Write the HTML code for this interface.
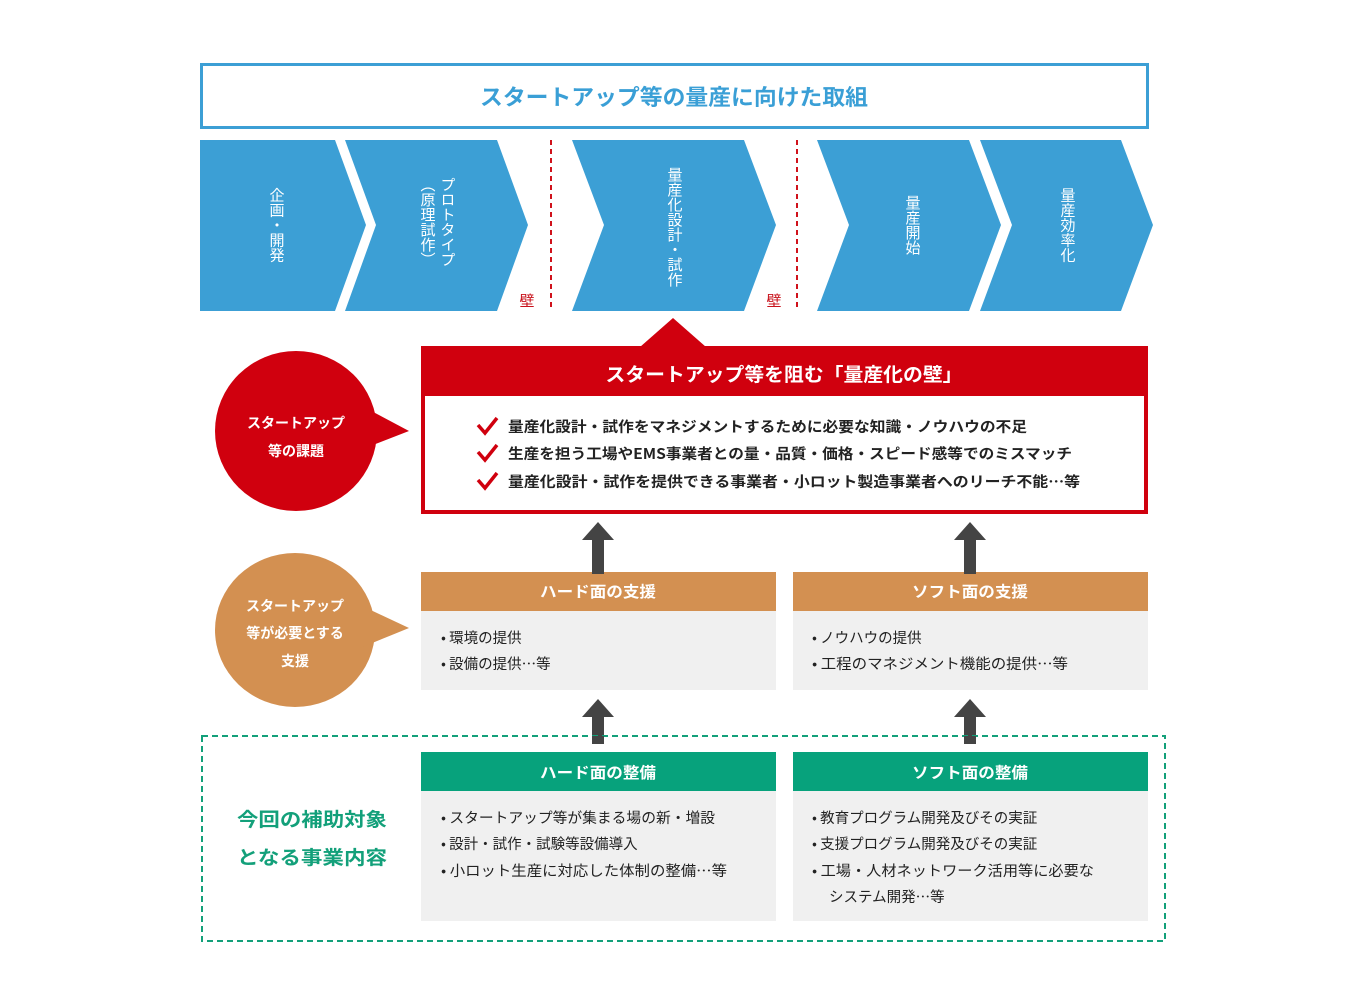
<!DOCTYPE html>
<html><head><meta charset="utf-8"><style>
body{margin:0;background:#fff}
svg{display:block;font-family:"Noto Sans CJK JP","Liberation Sans",sans-serif}
</style></head><body>
<svg width="1366" height="1000" viewBox="0 0 1366 1000">
<rect x="201.5" y="64.5" width="946" height="63" fill="#fff" stroke="#3c9fd5" stroke-width="3"/>
<text x="674" y="105" text-anchor="middle" font-size="22" font-weight="bold" fill="#3a9fd6" textLength="388" lengthAdjust="spacingAndGlyphs">スタートアップ等の量産に向けた取組</text>
<g fill="#3c9fd5">
<polygon points="200,140 335,140 366,225 335,311 200,311"/>
<polygon points="345,140 497,140 528,225 497,311 345,311 376,225"/>
<polygon points="572,140 744,140 776,225 744,311 572,311 604,225"/>
<polygon points="817,140 969,140 1001,225 969,311 817,311 849,225"/>
<polygon points="980,140 1121,140 1153,225 1121,311 980,311 1012,225"/>
</g>
<line x1="551" y1="140" x2="551" y2="311" stroke="#d0121b" stroke-width="2" stroke-dasharray="5,4"/>
<line x1="797" y1="140" x2="797" y2="311" stroke="#d0121b" stroke-width="2" stroke-dasharray="5,4"/>
<text x="527" y="306" text-anchor="middle" font-size="15" fill="#c8101a">壁</text>
<text x="774" y="306" text-anchor="middle" font-size="15" fill="#c8101a">壁</text>
<g fill="#fff" font-size="15" style="writing-mode:vertical-rl;writing-mode:tb" text-anchor="middle">
<text x="277" y="225">企画・開発</text>
<text x="448" y="222">プロトタイプ</text>
<text x="428" y="222">（原理試作）</text>
<text x="675" y="227">量産化設計・試作</text>
<text x="913" y="225">量産開始</text>
<text x="1068" y="225">量産効率化</text>
</g>
<polygon points="640,347 673,318 706,347" fill="#d0000e"/>
<rect x="421" y="346" width="727" height="168" fill="#d0000e"/>
<rect x="425" y="396" width="719" height="114" fill="#fff"/>
<text x="784" y="381" text-anchor="middle" font-size="19" font-weight="bold" fill="#fff" textLength="357" lengthAdjust="spacingAndGlyphs">スタートアップ等を阻む「量産化の壁」</text>
<g font-size="14.5" font-weight="bold" fill="#222">
<text x="508" y="432" textLength="519" lengthAdjust="spacingAndGlyphs">量産化設計・試作をマネジメントするために必要な知識・ノウハウの不足</text>
<text x="508" y="459" textLength="564" lengthAdjust="spacingAndGlyphs">生産を担う工場やEMS事業者との量・品質・価格・スピード感等でのミスマッチ</text>
<text x="508" y="487" textLength="572" lengthAdjust="spacingAndGlyphs">量産化設計・試作を提供できる事業者・小ロット製造事業者へのリーチ不能…等</text>
</g>
<g fill="none" stroke="#d0000e" stroke-width="3.5">
<polyline points="478,425 485,433 497,418"/>
<polyline points="478,452 485,460 497,445"/>
<polyline points="478,480 485,488 497,473"/>
</g>
<ellipse cx="296" cy="431" rx="81" ry="80" fill="#d0000e"/>
<polygon points="360,405 409,431 360,450" fill="#d0000e"/>
<text x="296" y="428" text-anchor="middle" font-size="14" font-weight="bold" fill="#fff">スタートアップ</text>
<text x="296" y="456" text-anchor="middle" font-size="14" font-weight="bold" fill="#fff">等の課題</text>
<ellipse cx="295" cy="630" rx="80" ry="77" fill="#d39051"/>
<polygon points="360,605 409,628 360,648" fill="#d39051"/>
<g text-anchor="middle" font-size="14" font-weight="bold" fill="#fff">
<text x="295" y="611">スタートアップ</text>
<text x="295" y="638">等が必要とする</text>
<text x="295" y="666">支援</text>
</g>
<rect x="421" y="572" width="355" height="39" fill="#d39051"/>
<rect x="421" y="611" width="355" height="79" fill="#f0f0f0"/>
<rect x="793" y="572" width="355" height="39" fill="#d39051"/>
<rect x="793" y="611" width="355" height="79" fill="#f0f0f0"/>
<text x="598" y="597" text-anchor="middle" font-size="15.5" font-weight="bold" fill="#fff" textLength="116" lengthAdjust="spacingAndGlyphs">ハード面の支援</text>
<text x="970" y="597" text-anchor="middle" font-size="15.5" font-weight="bold" fill="#fff" textLength="116" lengthAdjust="spacingAndGlyphs">ソフト面の支援</text>
<g font-size="14.5" fill="#222">
<text x="441" y="643">• 環境の提供</text>
<text x="441" y="669">• 設備の提供…等</text>
<text x="812" y="643">• ノウハウの提供</text>
<text x="812" y="669" textLength="256" lengthAdjust="spacingAndGlyphs">• 工程のマネジメント機能の提供…等</text>
</g>
<g fill="#444">
<polygon points="592,574 604,574 604,540 614,540 598,522 582,540 592,540"/>
<polygon points="964,574 976,574 976,540 986,540 970,522 954,540 964,540"/>
<polygon points="592,743 604,743 604,717 614,717 598,699 582,717 592,717"/>
<polygon points="964,743 976,743 976,717 986,717 970,699 954,717 964,717"/>
</g>
<rect x="202" y="736" width="963" height="205" fill="none" stroke="#13a07a" stroke-width="2" stroke-dasharray="6,4"/>
<rect x="592" y="736" width="12" height="8" fill="#444"/><rect x="964" y="736" width="12" height="8" fill="#444"/>
<text x="312" y="826" text-anchor="middle" font-size="19" font-weight="bold" fill="#13a07a" textLength="150" lengthAdjust="spacingAndGlyphs">今回の補助対象</text>
<text x="312" y="864" text-anchor="middle" font-size="19" font-weight="bold" fill="#13a07a" textLength="150" lengthAdjust="spacingAndGlyphs">となる事業内容</text>
<rect x="421" y="752" width="355" height="39" fill="#07a27c"/>
<rect x="421" y="791" width="355" height="130" fill="#f0f0f0"/>
<rect x="793" y="752" width="355" height="39" fill="#07a27c"/>
<rect x="793" y="791" width="355" height="130" fill="#f0f0f0"/>
<text x="598" y="778" text-anchor="middle" font-size="15.5" font-weight="bold" fill="#fff" textLength="116" lengthAdjust="spacingAndGlyphs">ハード面の整備</text>
<text x="970" y="778" text-anchor="middle" font-size="15.5" font-weight="bold" fill="#fff" textLength="116" lengthAdjust="spacingAndGlyphs">ソフト面の整備</text>
<g font-size="14.5" fill="#222">
<text x="441" y="823" textLength="274" lengthAdjust="spacingAndGlyphs">• スタートアップ等が集まる場の新・増設</text>
<text x="441" y="849">• 設計・試作・試験等設備導入</text>
<text x="441" y="876" textLength="286" lengthAdjust="spacingAndGlyphs">• 小ロット生産に対応した体制の整備…等</text>
<text x="812" y="823">• 教育プログラム開発及びその実証</text>
<text x="812" y="849">• 支援プログラム開発及びその実証</text>
<text x="812" y="876" textLength="282" lengthAdjust="spacingAndGlyphs">• 工場・人材ネットワーク活用等に必要な</text>
<text x="829" y="902">システム開発…等</text>
</g>
</svg>
</body></html>
